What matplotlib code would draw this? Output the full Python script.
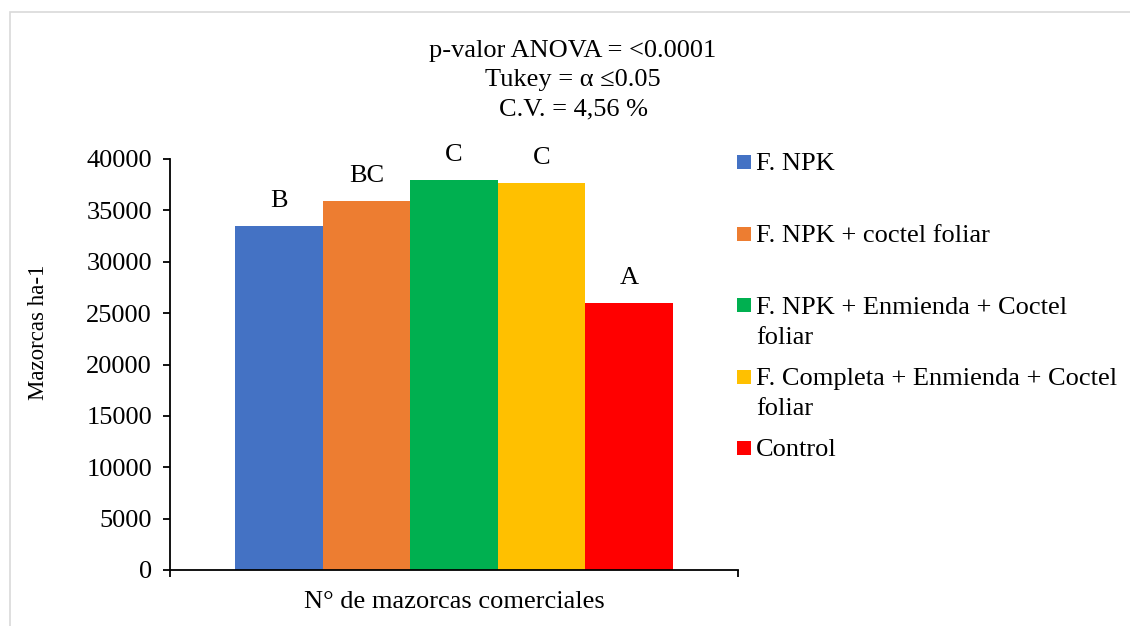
import matplotlib
matplotlib.use("Agg")
import matplotlib.pyplot as plt
from matplotlib.patches import Rectangle

# ---- data ----
categories = ["F. NPK", "F. NPK + coctel foliar", "F. NPK + Enmienda + Coctel\nfoliar",
              "F. Completa + Enmienda + Coctel\nfoliar", "Control"]
values = [33500, 35900, 38000, 37700, 26000]
letters = ["B", "BC", "C", "C", "A"]
colors = ["#4472C4", "#ED7D31", "#00B050", "#FFC000", "#FF0000"]
yticks = [0, 5000, 10000, 15000, 20000, 25000, 30000, 35000, 40000]
title_lines = ["p-valor ANOVA = <0.0001", "Tukey = \u03b1 \u22640.05", "C.V. = 4,56 %"]
xlabel = "N\u00b0 de mazorcas comerciales"
ylabel = "Mazorcas ha-1"

plt.rcParams['font.family'] = ['Liberation Serif', 'DejaVu Serif']
FS = 19

W, H = 1130, 626
fig = plt.figure(figsize=(W / 100, H / 100), dpi=100)

def fx(px):
    return px / W

def fy(py):
    return 1 - py / H

# outer border
fig.patches.append(Rectangle((fx(10), -0.05), 1.2, fy(12) + 0.05, transform=fig.transFigure,
                             fill=False, edgecolor="#D9D9D9", linewidth=1.2))

ax = fig.add_axes([fx(170), fy(570), fx(738) - fx(170), fy(159) - fy(570)])

n = len(values)
bw = 1.0 / n
xs = [(i - (n - 1) / 2) * bw for i in range(n)]
ax.bar(xs, values, width=bw, color=colors, align="center", linewidth=0)
for x, v, l in zip(xs, values, letters):
    ax.annotate(l, (x, v), xytext=(0, 18), textcoords="offset points",
                ha="center", va="center", fontsize=FS)

half = 0.5 * 568 / 438
ax.set_xlim(-half, half)
ax.set_ylim(0, 40000)
ax.set_yticks(yticks)
ax.set_yticklabels([str(t) for t in yticks], fontsize=FS)
ax.set_xticks([-half, half])
ax.set_xticklabels(["", ""])
for s in ["top", "right"]:
    ax.spines[s].set_visible(False)
for s in ["left", "bottom"]:
    ax.spines[s].set_linewidth(1.3)
    ax.spines[s].set_color("#000000")
ax.tick_params(axis="y", direction="out", length=5, width=1.3, pad=8)
ax.tick_params(axis="x", direction="out", length=5, width=1.3)

fig.text(fx(454), fy(602), xlabel, ha="center", va="center", fontsize=FS)
fig.text(fx(38), fy(332), ylabel, ha="center", va="center", rotation=90, fontsize=16.5)

title_y = [51, 80, 109]
for t, yy in zip(title_lines, title_y):
    fig.text(fx(573), fy(yy), t, ha="center", va="center", fontsize=FS)

# legend (manual, Excel-like fixed slots)
for i, (lab, col) in enumerate(zip(categories, colors)):
    yc = 162 + 71.5 * i
    fig.patches.append(Rectangle((fx(737), fy(yc + 7)), fx(14), 14 / H,
                                 transform=fig.transFigure, facecolor=col, edgecolor="none"))
    for j, line in enumerate(lab.split("\n")):
        fig.text(fx(756), fy(yc + 30 * j), line, ha="left", va="center_baseline", fontsize=FS)

fig.savefig("out.png", dpi=100)
